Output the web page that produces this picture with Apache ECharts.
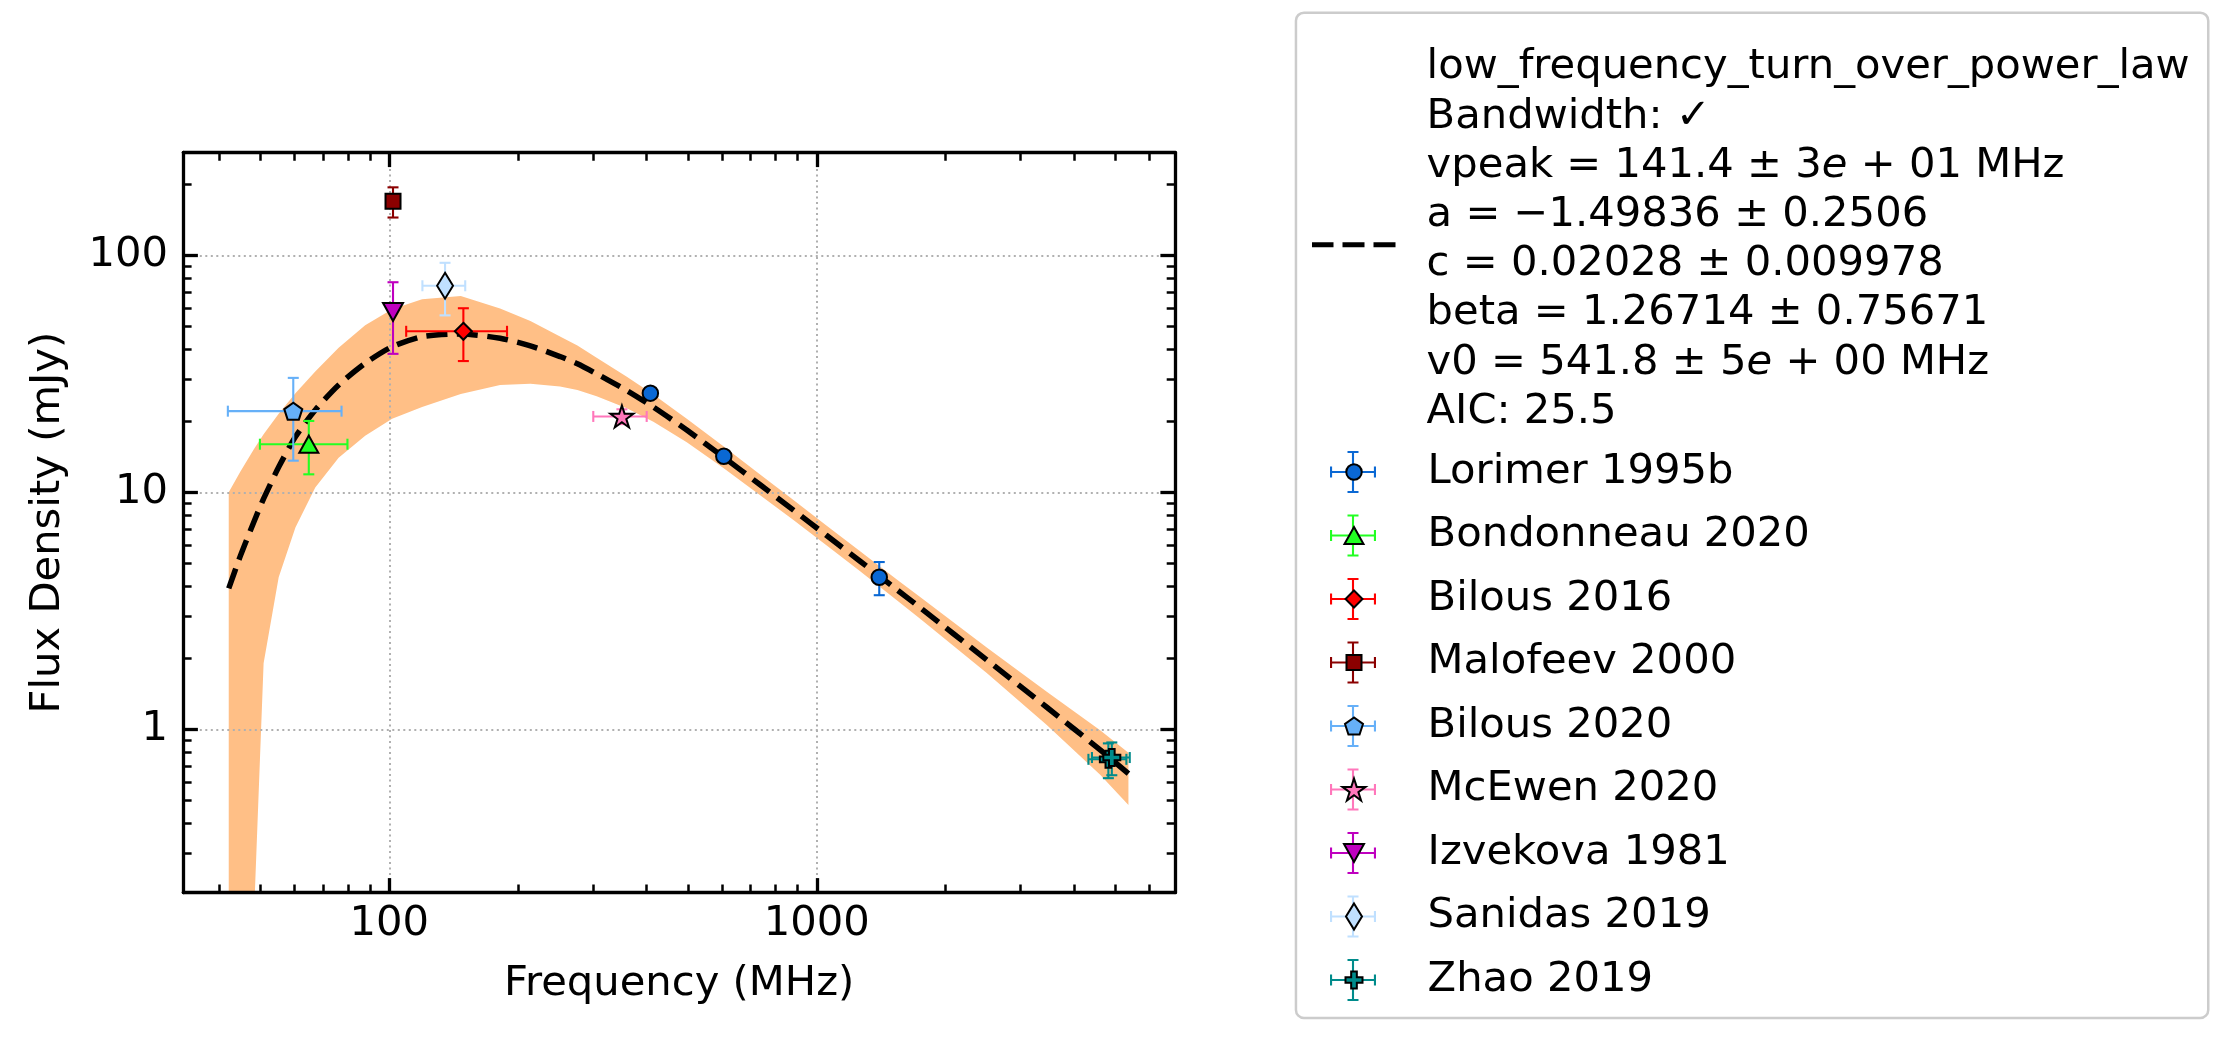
<!DOCTYPE html>
<html lang="en">
<head>
<meta charset="UTF-8">
<title>Flux density spectrum</title>
<script src="https://cdn.jsdelivr.net/npm/echarts@6/dist/echarts.min.js"></script>
<style>
  html, body { margin: 0; padding: 0; background: #fff; }
  #chart { width: 2236px; height: 1046px; }
</style>
</head>
<body>
<div id="chart"></div>
<script>
// axis limits (MHz / mJy) and tick positions
const xLimits = [32.96, 6887];
const yLimits = [0.2044, 271.6];
const xMajorTicks = [100, 1000];
const xMinorTicks = [40, 50, 60, 70, 80, 90, 200, 300, 400, 500, 600, 700, 800, 900, 2000, 3000, 4000, 5000, 6000];
const yMajorTicks = [1, 10, 100];
const yMinorTicks = [0.3, 0.4, 0.5, 0.6, 0.7, 0.8, 0.9, 2, 3, 4, 5, 6, 7, 8, 9, 20, 30, 40, 50, 60, 70, 80, 90, 200];

// fitted model, with the edges of the shaded band
const fitFreq = [42.1, 44.8, 48.2, 50.8, 55.1, 60.3, 67.1, 76.1, 87.8, 101.5, 119.3, 146.9, 181.6, 213.8, 250.8, 275.4, 305.5, 359.4, 414.7, 496.4, 604.7, 737.0, 881.8, 1055, 1263, 1539, 1745, 2498, 3452, 4602, 5359];
const fitFlux = [3.93, 5.38, 7.50, 9.40, 12.78, 17.16, 22.25, 28.36, 35.03, 41.15, 45.36, 46.56, 44.67, 41.5, 37.40, 34.86, 31.62, 26.89, 22.90, 18.32, 14.09, 10.76, 8.41, 6.57, 5.12, 3.885, 3.26, 1.963, 1.239, 0.819, 0.65];
const bandUpper = [10.0, 12.22, 15.21, 17.58, 21.43, 26.18, 32.36, 40.74, 50.70, 59.16, 65.31, 67.30, 59.70, 52.84, 45.50, 41.69, 36.98, 30.73, 25.87, 20.46, 15.63, 11.88, 9.27, 7.235, 5.64, 4.29, 3.615, 2.213, 1.439, 0.990, 0.797];
const bandLower = [0.01, 0.05, 0.158, 1.90, 4.38, 7.11, 10.47, 14.0, 17.34, 20.42, 22.91, 26.0, 28.38, 28.71, 27.99, 27.04, 25.41, 22.62, 19.86, 16.26, 12.65, 9.72, 7.64, 5.963, 4.64, 3.50, 2.925, 1.730, 1.042, 0.643, 0.479];

// measurements: frequency, flux, and their errors
const lorimerFreq = [408, 606, 1400];
const lorimerFlux = [26.2, 14.2, 4.38];
const lorimerFreqErr = [0, 0, 0];
const lorimerFluxErr = [1.3, 0.7, 0.7];

const bondonneauFreq = [64.8];
const bondonneauFlux = [15.96];
const bondonneauFreqErr = [15.0];
const bondonneauFluxErr = [4.05];

const bilous16Freq = [149];
const bilous16Flux = [47.8];
const bilous16FreqErr = [39.5];
const bilous16FluxErr = [12.0];

const malofeevFreq = [102];
const malofeevFlux = [169];
const malofeevFreqErr = [0];
const malofeevFluxErr = [24.6];

const bilous20Freq = [59.6];
const bilous20Flux = [22.0];
const bilous20FreqErr = [17.7];
const bilous20FluxErr = [8.4];

const mcewenFreq = [350];
const mcewenFlux = [20.9];
const mcewenFreqErr = [50];
const mcewenFluxErr = [1.5];

const izvekovaFreq = [102];
const izvekovaFlux = [57.7];
const izvekovaFreqErr = [0];
const izvekovaFluxErr = [19.3];

const sanidasFreq = [135];
const sanidasFlux = [74.4];
const sanidasFreqErr = [15.5];
const sanidasFluxErr = [18.6];

const zhaoFreq = [4810, 4900];
const zhaoFlux = [0.747, 0.76];
const zhaoFreqErr = [490, 497];
const zhaoFluxErr = [0.125, 0.12];

const fitName = 'low_frequency_turn_over_power_law';
const fitLabel = [
  'low_frequency_turn_over_power_law',
  'Bandwidth: ✓',
  'vpeak = 141.4 ± 3{it|e} + 01 MHz',
  'a = −1.49836 ± 0.2506',
  'c = 0.02028 ± 0.009978',
  'beta = 1.26714 ± 0.75671',
  'v0 = 541.8 ± 5{it|e} + 00 MHz',
  'AIC: 25.5'
].join('\n');

const sets = [
  { name: 'Lorimer 1995b', f: lorimerFreq, s: lorimerFlux, fe: lorimerFreqErr, se: lorimerFluxErr },
  { name: 'Bondonneau 2020', f: bondonneauFreq, s: bondonneauFlux, fe: bondonneauFreqErr, se: bondonneauFluxErr },
  { name: 'Bilous 2016', f: bilous16Freq, s: bilous16Flux, fe: bilous16FreqErr, se: bilous16FluxErr },
  { name: 'Malofeev 2000', f: malofeevFreq, s: malofeevFlux, fe: malofeevFreqErr, se: malofeevFluxErr },
  { name: 'Bilous 2020', f: bilous20Freq, s: bilous20Flux, fe: bilous20FreqErr, se: bilous20FluxErr },
  { name: 'McEwen 2020', f: mcewenFreq, s: mcewenFlux, fe: mcewenFreqErr, se: mcewenFluxErr },
  { name: 'Izvekova 1981', f: izvekovaFreq, s: izvekovaFlux, fe: izvekovaFreqErr, se: izvekovaFluxErr },
  { name: 'Sanidas 2019', f: sanidasFreq, s: sanidasFlux, fe: sanidasFreqErr, se: sanidasFluxErr },
  { name: 'Zhao 2019', f: zhaoFreq, s: zhaoFlux, fe: zhaoFreqErr, se: zhaoFluxErr }
];

// marker outlines in unit coordinates
const UNIT = {
  triangle: [[0, -1], [1, 1], [-1, 1]],
  diamond: [[0, -1], [1, 0], [0, 1], [-1, 0]],
  rect: [[-1, -1], [1, -1], [1, 1], [-1, 1]],
  pentagon: [[0, -1], [-0.951, -0.309], [-0.588, 0.809], [0.588, 0.809], [0.951, -0.309]],
  star: [[0, -1], [-0.2245, -0.309], [-0.951, -0.309], [-0.3633, 0.118], [-0.588, 0.809], [0, 0.382], [0.588, 0.809], [0.3633, 0.118], [0.951, -0.309], [0.2245, -0.309]],
  triDown: [[-1, -1], [1, -1], [0, 1]],
  thinDiamond: [[0, -1], [0.6, 0], [0, 1], [-0.6, 0]],
  plus: [[-1, -3], [1, -3], [1, -1], [3, -1], [3, 1], [1, 1], [1, 3], [-1, 3], [-1, 1], [-3, 1], [-3, -1], [-1, -1]]
};
const BUILTIN = ['circle', 'triangle', 'diamond', 'rect'];
const CROSS = 'path://M0 19.95h46v2.1H0z M21.95 0h2.1v42h-2.1z M0 15.5h2.1v11H0z M43.9 15.5h2.1v11h-2.1z M17.5 0h11v2.1h-11z M17.5 39.9h11v2.1h-11z';
// the lone move-to widens the icon box so the dashes sit a little lower than the text centre
const DASHES = 'path://M0 -10 M0 0h21.5v5h-21.5z M30.5 0h22v5h-22z M61.5 0h22v5h-22z';

const looks = {
  'Lorimer 1995b':   { color: '#0a68d4', shape: 'circle',      size: [15.5, 15.5] },
  'Bondonneau 2020': { color: '#22ff22', shape: 'triangle',    size: [19, 17] },
  'Bilous 2016':     { color: '#ff0000', shape: 'diamond',     size: [17, 17] },
  'Malofeev 2000':   { color: '#8b0000', shape: 'rect',        size: [15, 15] },
  'Bilous 2020':     { color: '#66b0f8', shape: 'pentagon',    size: [18, 17] },
  'McEwen 2020':     { color: '#ff77bb', shape: 'star',        size: [23, 22] },
  'Izvekova 1981':   { color: '#bf00bf', shape: 'triDown',     size: [20, 18] },
  'Sanidas 2019':    { color: '#c0e0ff', shape: 'thinDiamond', size: [16, 26] },
  'Zhao 2019':       { color: '#008b8b', shape: 'plus',        size: [17, 17] }
};

const toPath = pts => 'path://M' + pts.map(p => p.join(',')).join('L') + 'Z';
const plotSymbol = shape => BUILTIN.indexOf(shape) >= 0 ? shape : toPath(UNIT[shape]);

// legend icon drawn at its real pixel size inside a fixed box (corner move-tos fix the box)
function legendIcon(shape, size, box) {
  const w = size[0], h = size[1], b = box / 2;
  let body;
  if (shape === 'circle') {
    const r = w / 2;
    body = `M${r} 0A${r} ${r} 0 1 1 ${-r} 0A${r} ${r} 0 1 1 ${r} 0Z`;
  } else {
    const pts = UNIT[shape];
    const xs = pts.map(p => p[0]), ys = pts.map(p => p[1]);
    const x0 = Math.min(...xs), x1 = Math.max(...xs), y0 = Math.min(...ys), y1 = Math.max(...ys);
    body = 'M' + pts.map(p => (-w / 2 + (p[0] - x0) / (x1 - x0) * w).toFixed(2) + ' ' +
                              (-h / 2 + (p[1] - y0) / (y1 - y0) * h).toFixed(2)).join('L') + 'Z';
  }
  return `path://M${-b} ${-b}M${b} ${b}` + body;
}

const FONT = 'DejaVu Sans';
const lg = Math.log10;
const xRange = { min: lg(xLimits[0]), max: lg(xLimits[1]) };
const yRange = { min: lg(yLimits[0]), max: lg(yLimits[1]) };
const tickLabel = v => String(+Math.pow(10, v).toPrecision(6));

function makeAxis(range, pos, grid, ticks, major, extra) {
  return Object.assign({
    type: 'value', gridIndex: grid, position: pos, min: range.min, max: range.max,
    axisLine: { show: major, onZero: false, lineStyle: { color: '#000', width: 3.3 } },
    axisTick: {
      show: true, inside: true, length: major ? 14.6 : 8.3, customValues: ticks.map(lg),
      lineStyle: { color: '#000', width: major ? 3.3 : 2.5 }
    },
    axisLabel: { show: false },
    splitLine: { show: false },
    axisPointer: { show: false }
  }, extra || {});
}

const gridLine = { show: true, lineStyle: { color: '#b0b0b0', width: 2, type: [2, 3.5] } };
const labelStyle = { fontFamily: FONT, fontSize: 41.7, color: '#000', lineHeight: 42 };

const xAxes = [
  makeAxis(xRange, 'bottom', 0, xMajorTicks, true, {
    axisLabel: Object.assign({ show: true, customValues: xMajorTicks.map(lg), formatter: tickLabel, margin: 10.6 }, labelStyle),
    splitLine: gridLine,
    name: 'Frequency (MHz)', nameLocation: 'middle', nameGap: 70.6, nameTextStyle: labelStyle
  }),
  makeAxis(xRange, 'top', 0, xMajorTicks, true),
  makeAxis(xRange, 'bottom', 1, xMinorTicks, false),
  makeAxis(xRange, 'top', 1, xMinorTicks, false)
];
const yAxes = [
  makeAxis(yRange, 'left', 0, yMajorTicks, true, {
    axisLabel: Object.assign({ show: true, customValues: yMajorTicks.map(lg), formatter: tickLabel, margin: 15.2 }, labelStyle),
    splitLine: gridLine,
    name: 'Flux Density (mJy)', nameLocation: 'middle', nameGap: 114.4, nameTextStyle: labelStyle
  }),
  makeAxis(yRange, 'right', 0, yMajorTicks, true),
  makeAxis(yRange, 'left', 1, yMinorTicks, false),
  makeAxis(yRange, 'right', 1, yMinorTicks, false)
];

const gridBox = { left: 183.3, top: 152.5, right: 1061, bottom: 153.3, containLabel: false };

function renderBand(params, api) {
  const pts = [];
  for (let i = 0; i < fitFreq.length; i++) pts.push(api.coord([lg(fitFreq[i]), lg(bandUpper[i])]));
  for (let i = fitFreq.length - 1; i >= 0; i--) pts.push(api.coord([lg(fitFreq[i]), lg(bandLower[i])]));
  const cs = params.coordSys;
  return {
    type: 'polygon',
    shape: { points: pts },
    style: { fill: '#ffbf86' },
    clipPath: { type: 'rect', shape: { x: cs.x, y: cs.y, width: cs.width, height: cs.height } }
  };
}

function errorBars(color) {
  const cap = 5.5;
  const seg = (x1, y1, x2, y2) => ({ type: 'line', shape: { x1, y1, x2, y2 }, style: { stroke: color, lineWidth: 2.1 } });
  return function (params, api) {
    const y = api.value(1), x = api.value(0);
    const kids = [];
    if (api.value(2) !== api.value(3)) {
      const a = api.coord([api.value(2), y]), b = api.coord([api.value(3), y]);
      kids.push(seg(a[0], a[1], b[0], b[1]), seg(a[0], a[1] - cap, a[0], a[1] + cap), seg(b[0], b[1] - cap, b[0], b[1] + cap));
    }
    if (api.value(4) !== api.value(5)) {
      const a = api.coord([x, api.value(4)]), b = api.coord([x, api.value(5)]);
      kids.push(seg(a[0], a[1], b[0], b[1]), seg(a[0] - cap, a[1], a[0] + cap, a[1]), seg(b[0] - cap, b[1], b[0] + cap, b[1]));
    }
    return { type: 'group', children: kids };
  };
}

const series = [
  {
    type: 'custom', name: 'band', xAxisIndex: 0, yAxisIndex: 0, z: -1, silent: true,
    data: [[lg(fitFreq[0]), lg(fitFlux[0])]], renderItem: renderBand
  },
  {
    type: 'line', name: fitName, xAxisIndex: 0, yAxisIndex: 0, z: 3, silent: true,
    symbol: 'none', smooth: 0.25, color: '#000',
    lineStyle: { color: '#000', width: 5.5, type: [21, 9.5] },
    data: fitFreq.map((f, i) => [lg(f), lg(fitFlux[i])])
  }
];

sets.forEach(d => {
  const look = looks[d.name];
  series.push({
    type: 'custom', name: d.name, xAxisIndex: 0, yAxisIndex: 0, z: 4, silent: true,
    itemStyle: { color: look.color },
    encode: { x: 0, y: 1 },
    data: d.f.map((f, i) => [lg(f), lg(d.s[i]), lg(f - d.fe[i]), lg(f + d.fe[i]), lg(d.s[i] - d.se[i]), lg(d.s[i] + d.se[i])]),
    renderItem: errorBars(look.color)
  });
  series.push({
    type: 'scatter', name: d.name, xAxisIndex: 0, yAxisIndex: 0, z: 5, silent: true,
    symbol: plotSymbol(look.shape), symbolSize: look.size,
    itemStyle: { color: look.color, borderColor: '#000', borderWidth: 2, opacity: 1 },
    data: d.f.map((f, i) => [lg(f), lg(d.s[i])])
  });
});

const legendText = { fontFamily: FONT, fontSize: 41.7, color: '#000', lineHeight: 42 };

const option = {
  animation: false,
  backgroundColor: '#fff',
  grid: [Object.assign({}, gridBox), Object.assign({}, gridBox)],
  xAxis: xAxes,
  yAxis: yAxes,
  graphic: {
    elements: [{
      type: 'rect', left: 1294.7, top: 11.4, z: -10, silent: true,
      shape: { width: 912.3, height: 1005.3, r: 8 },
      style: { fill: '#fff', stroke: '#cccccc', lineWidth: 2.5 }
    }]
  },
  legend: [
    {
      orient: 'vertical', left: 1312, top: 43, padding: 0, selectedMode: false,
      itemWidth: 83.5, itemHeight: 15,
      data: [{ name: fitName, icon: DASHES, itemStyle: { color: '#000', borderWidth: 0 } }],
      formatter: () => fitLabel,
      textStyle: {
        fontFamily: FONT, fontSize: 41.7, color: '#000', lineHeight: 49.2, padding: [0, 0, 0, 26.1],
        rich: { it: { fontFamily: FONT, fontSize: 41.7, fontStyle: 'italic', color: '#000', lineHeight: 49.2 } }
      }
    },
    {
      orient: 'vertical', left: 1330, top: 451, padding: 0, selectedMode: false, z: 4,
      itemWidth: 46, itemHeight: 42, itemGap: 21.5,
      data: sets.map(d => ({ name: d.name, icon: CROSS, itemStyle: { color: looks[d.name].color, borderWidth: 0 } })),
      textStyle: Object.assign({}, legendText, { color: 'rgba(0,0,0,0)' })
    },
    {
      orient: 'vertical', left: 1339, top: 451, padding: 0, selectedMode: false, z: 5,
      itemWidth: 28, itemHeight: 28, itemGap: 21.5,
      data: sets.map(d => ({
        name: d.name, icon: legendIcon(looks[d.name].shape, looks[d.name].size, 28),
        itemStyle: { color: looks[d.name].color, borderColor: '#000', borderWidth: 2 }
      })),
      textStyle: Object.assign({}, legendText, { padding: [0, 0, 0, 54.6] })
    }
  ],
  series: series
};

const chart = echarts.init(document.getElementById('chart'), null, { renderer: 'canvas' });
chart.setOption(option);
</script>
</body>
</html>
